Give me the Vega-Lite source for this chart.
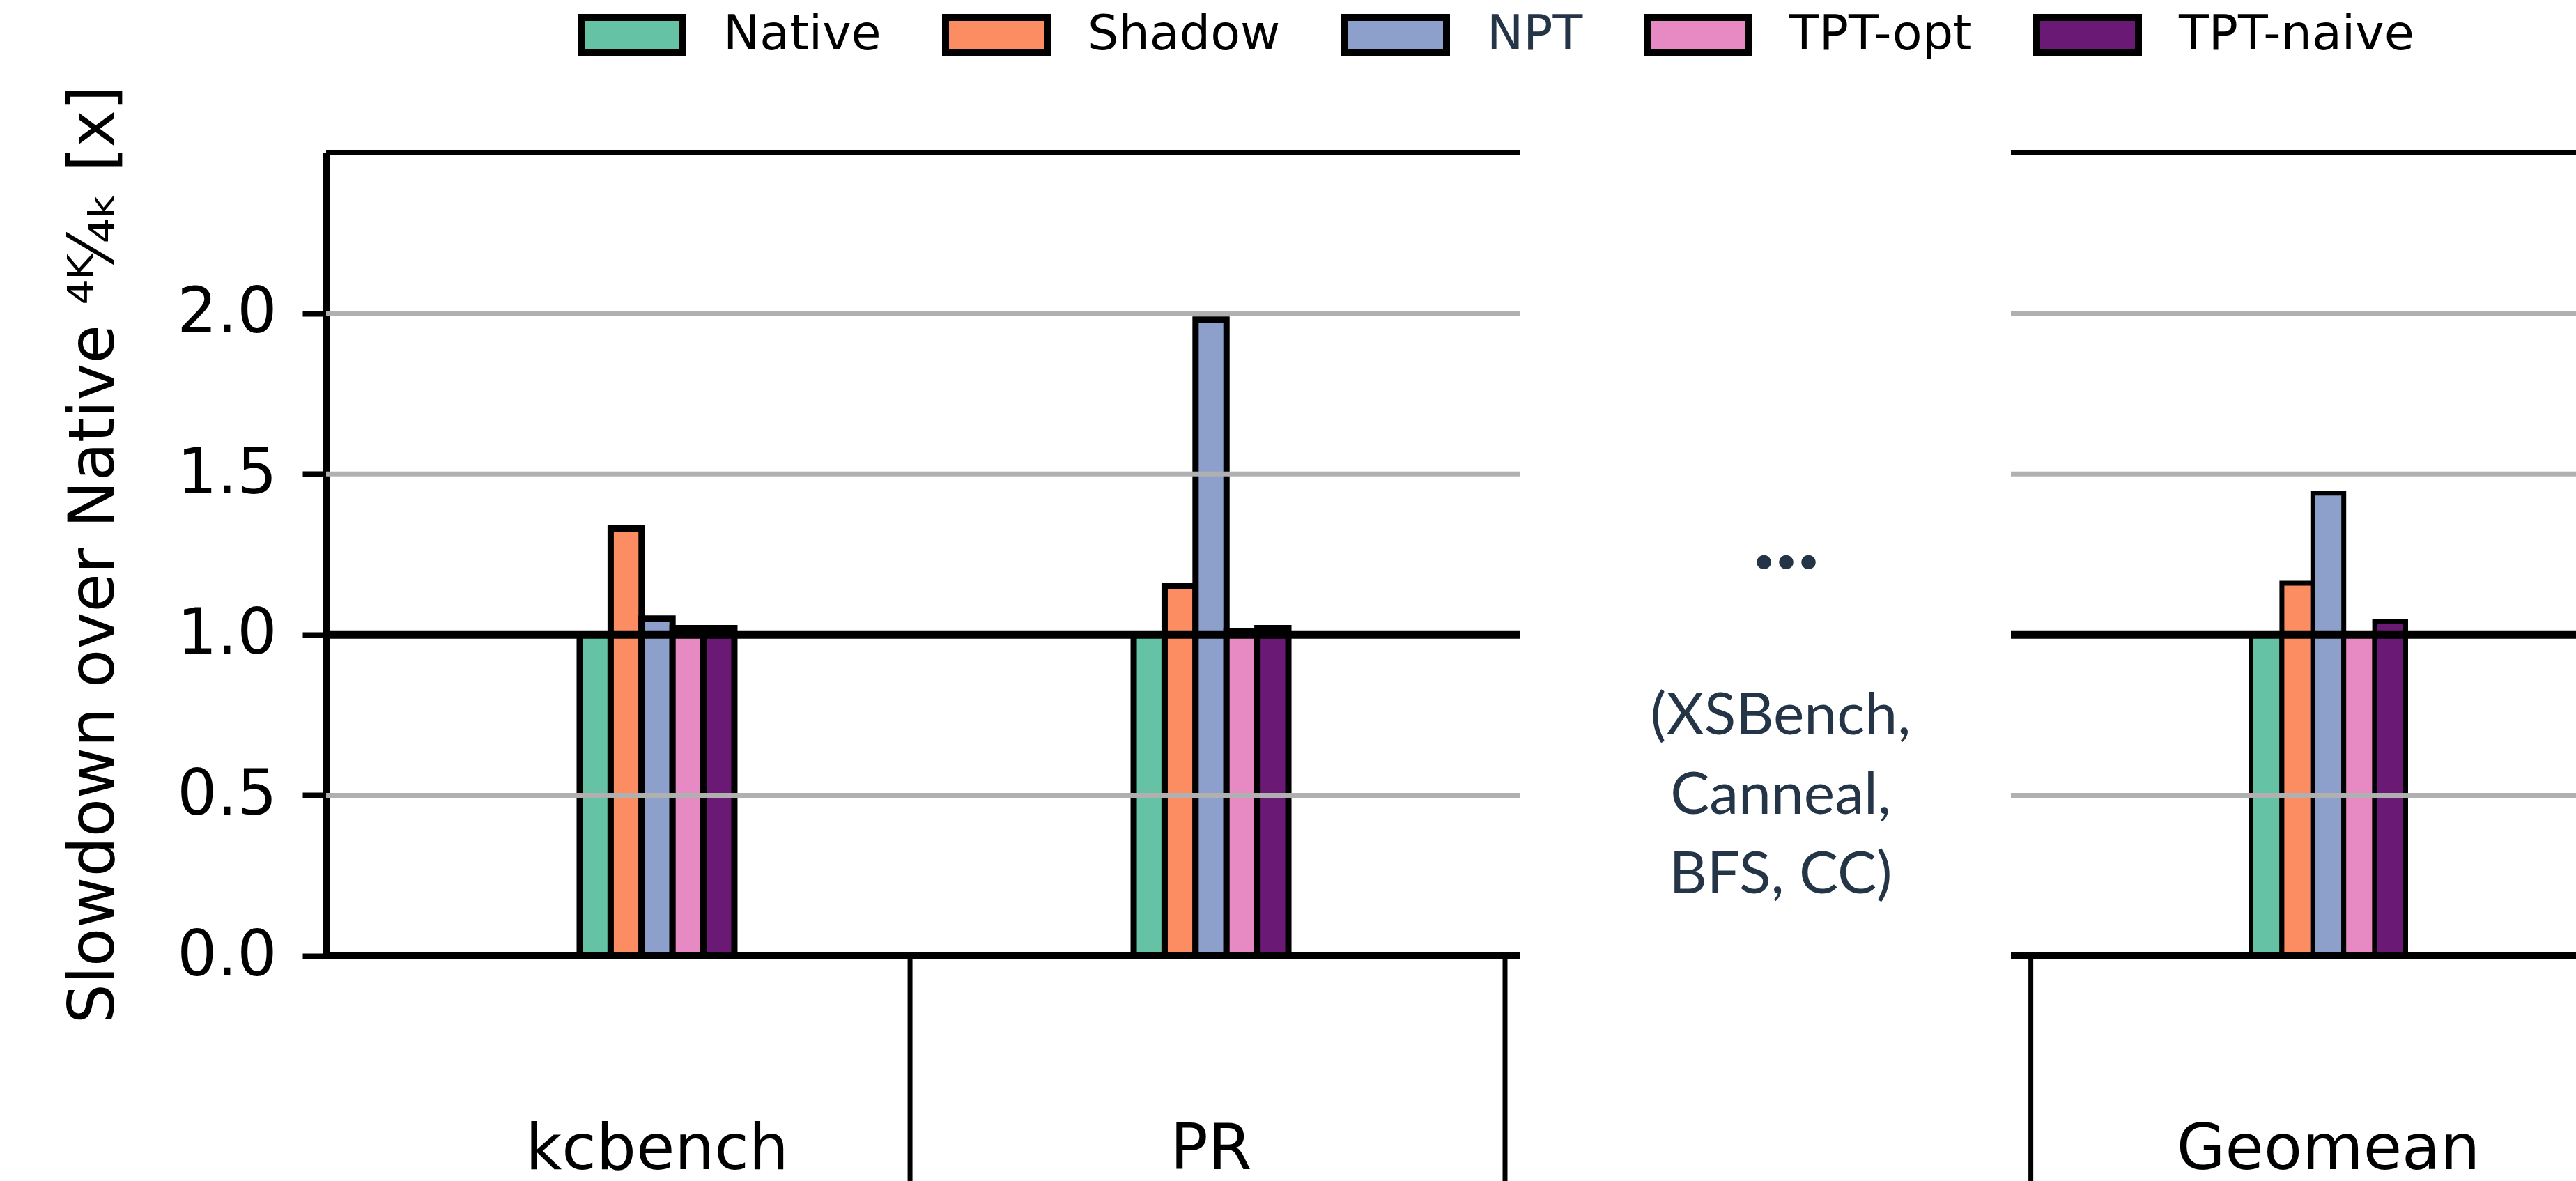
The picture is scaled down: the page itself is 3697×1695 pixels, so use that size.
{
  "$schema": "https://vega.github.io/schema/vega-lite/v6.json",
  "background": "white",
  "padding": {"left": 89, "top": -28, "right": 0, "bottom": 0},
  "spacing": 0,
  "config": {
    "view": {"stroke": null},
    "font": "DejaVu Sans",
    "legend": {
      "orient": "none",
      "legendX": 361,
      "legendY": -247,
      "direction": "horizontal",
      "symbolType": "M-1,-0.342H1V0.342H-1Z",
      "symbolSize": 21316,
      "symbolStrokeColor": "black",
      "symbolStrokeWidth": 10,
      "symbolOpacity": 1,
      "labelFont": "DejaVu Sans",
      "labelFontSize": 70,
      "labelColor": "black",
      "labelOffset": 53,
      "columnPadding": 72,
      "labelLimit": 0
    }
  },
  "datasets": {
    "bars": [
      {"group": "kcbench", "config": "Native", "value": 1.0},
      {"group": "kcbench", "config": "Shadow", "value": 1.33},
      {"group": "kcbench", "config": "NPT", "value": 1.05},
      {"group": "kcbench", "config": "TPT-opt", "value": 1.02},
      {"group": "kcbench", "config": "TPT-naive", "value": 1.02},
      {"group": "PR", "config": "Native", "value": 1.0},
      {"group": "PR", "config": "Shadow", "value": 1.15},
      {"group": "PR", "config": "NPT", "value": 1.98},
      {"group": "PR", "config": "TPT-opt", "value": 1.01},
      {"group": "PR", "config": "TPT-naive", "value": 1.02},
      {"group": "Geomean", "config": "Native", "value": 1.0},
      {"group": "Geomean", "config": "Shadow", "value": 1.16},
      {"group": "Geomean", "config": "NPT", "value": 1.44},
      {"group": "Geomean", "config": "TPT-opt", "value": 1.0},
      {"group": "Geomean", "config": "TPT-naive", "value": 1.04}
    ],
    "notes": [
      {"kind": "dots", "note": "..."},
      {"kind": "list", "note": "(XSBench,\nCanneal,\nBFS, CC)"}
    ]
  },
  "resolve": {"scale": {"x": "independent", "y": "independent", "color": "shared"}},
  "hconcat": [
    {
      "width": 1713,
      "height": 1153,
      "layer": [
        {
          "data": {"name": "bars"},
          "transform": [{"filter": "datum.group != 'Geomean'"}],
          "mark": {"type": "bar", "stroke": "black", "strokeWidth": 9},
          "encoding": {
            "x": {
              "field": "group", "type": "nominal",
              "scale": {"domain": ["kcbench", "PR"], "paddingInner": 0.7208, "paddingOuter": 0.4377, "align": 0.523},
              "axis": {"title": null, "labelAngle": 0, "labelFontSize": 90, "labelColor": "black", "labelLimit": 0, "ticks": false, "tickSize": 0, "domain": false, "labelPadding": 234, "grid": false}
            },
            "xOffset": {"field": "config", "type": "nominal", "sort": ["Native", "Shadow", "NPT", "TPT-opt", "TPT-naive"], "scale": {"paddingInner": 0, "paddingOuter": 0}},
            "y": {
              "field": "value", "type": "quantitative",
              "scale": {"domain": [0, 2.5], "nice": false, "zero": true},
              "axis": {
                "title": "Slowdown over Native ⁴ᴷ⁄₄ₖ [x]",
                "titleFontSize": 90, "titleFontWeight": "normal", "titleColor": "black", "titlePadding": 87,
                "values": [0, 0.5, 1, 1.5, 2, 2.5],
                "labelExpr": "datum.value >= 2.5 ? '' : format(datum.value, '.1f')",
                "labelFontSize": 90, "labelColor": "black", "labelPadding": 37,
                "tickSize": 34, "tickWidth": 8, "tickColor": "black",
                "tickOpacity": {"condition": {"test": "datum.value >= 2.5", "value": 0}, "value": 1},
                "domainColor": "black", "domainWidth": 10,
                "grid": false
              }
            },
            "color": {
              "field": "config", "type": "nominal",
              "scale": {"domain": ["Native", "Shadow", "NPT", "TPT-opt", "TPT-naive"], "range": ["#66c2a5", "#fc8d62", "#8da0cb", "#e78ac3", "#6a1a74"]},
              "legend": {"title": null, "encode": {"labels": {"update": {"fill": {"signal": "datum.label === 'NPT' ? '#253548' : 'black'"}}}}}
            }
          }
        },
        {"data": {"values": [{}]}, "mark": {"type": "rule", "color": "#b0b0b0", "strokeWidth": 7}, "encoding": {"y": {"datum": 0.5, "type": "quantitative"}}},
        {"data": {"values": [{}]}, "mark": {"type": "rule", "color": "#b0b0b0", "strokeWidth": 7}, "encoding": {"y": {"datum": 1.5, "type": "quantitative"}}},
        {"data": {"values": [{}]}, "mark": {"type": "rule", "color": "#b0b0b0", "strokeWidth": 7}, "encoding": {"y": {"datum": 2.0, "type": "quantitative"}}},
        {"data": {"values": [{}]}, "mark": {"type": "rule", "color": "black", "strokeWidth": 8}, "encoding": {"y": {"datum": 2.5, "type": "quantitative"}}},
        {"data": {"values": [{}]}, "mark": {"type": "rule", "color": "black", "strokeWidth": 12}, "encoding": {"y": {"datum": 1.0, "type": "quantitative"}}},
        {"data": {"values": [{}]}, "mark": {"type": "rule", "color": "black", "strokeWidth": 10}, "encoding": {"y": {"datum": 0, "type": "quantitative"}}},
        {
          "data": {"values": [{"group": "PR"}]},
          "mark": {"type": "rule", "color": "black", "strokeWidth": 7},
          "encoding": {"x": {"field": "group", "type": "nominal", "bandPosition": -1.446}, "y": {"datum": 0, "type": "quantitative"}, "y2": {"datum": -0.75}}
        },
        {
          "data": {"values": [{"group": "PR"}]},
          "mark": {"type": "rule", "color": "black", "strokeWidth": 7},
          "encoding": {"x": {"field": "group", "type": "nominal", "bandPosition": 2.401}, "y": {"datum": 0, "type": "quantitative"}, "y2": {"datum": -0.75}}
        }
      ]
    },
    {
      "width": 693,
      "height": 1153,
      "data": {"name": "notes"},
      "layer": [
        {
          "transform": [{"filter": "datum.kind == 'dots'"}],
          "mark": {"type": "text", "font": "Lato", "fontSize": 135, "fontWeight": "bold", "color": "#253548", "baseline": "alphabetic", "align": "center", "dx": 30},
          "encoding": {"text": {"field": "note"}, "y": {"datum": 1.205, "type": "quantitative", "scale": {"domain": [0, 2.5], "nice": false}, "axis": null}}
        },
        {
          "transform": [{"filter": "datum.kind == 'list'"}],
          "mark": {"type": "text", "font": "Lato", "fontSize": 84, "color": "#253548", "baseline": "alphabetic", "align": "center", "dx": 22, "lineBreak": "\n", "lineHeight": 114},
          "encoding": {"text": {"field": "note"}, "y": {"datum": 0.6895, "type": "quantitative", "scale": {"domain": [0, 2.5], "nice": false}, "axis": null}}
        }
      ]
    },
    {
      "width": 911,
      "height": 1153,
      "layer": [
        {
          "data": {"name": "bars"},
          "transform": [{"filter": "datum.group == 'Geomean'"}],
          "mark": {"type": "bar", "stroke": "black", "strokeWidth": 7},
          "encoding": {
            "x": {
              "field": "group", "type": "nominal",
              "scale": {"domain": ["Geomean"], "paddingInner": 0.7208, "paddingOuter": 0.4333, "align": 0.5},
              "axis": {"title": null, "labelAngle": 0, "labelFontSize": 90, "labelColor": "black", "labelLimit": 0, "ticks": false, "tickSize": 0, "domain": false, "labelPadding": 234, "grid": false}
            },
            "xOffset": {"field": "config", "type": "nominal", "sort": ["Native", "Shadow", "NPT", "TPT-opt", "TPT-naive"], "scale": {"paddingInner": 0, "paddingOuter": 0}},
            "y": {
              "field": "value", "type": "quantitative",
              "scale": {"domain": [0, 2.5], "nice": false, "zero": true},
              "axis": null
            },
            "color": {
              "field": "config", "type": "nominal",
              "scale": {"domain": ["Native", "Shadow", "NPT", "TPT-opt", "TPT-naive"], "range": ["#66c2a5", "#fc8d62", "#8da0cb", "#e78ac3", "#6a1a74"]},
              "legend": {"title": null, "encode": {"labels": {"update": {"fill": {"signal": "datum.label === 'NPT' ? '#253548' : 'black'"}}}}}
            }
          }
        },
        {"data": {"values": [{}]}, "mark": {"type": "rule", "color": "#b0b0b0", "strokeWidth": 7}, "encoding": {"y": {"datum": 0.5, "type": "quantitative"}}},
        {"data": {"values": [{}]}, "mark": {"type": "rule", "color": "#b0b0b0", "strokeWidth": 7}, "encoding": {"y": {"datum": 1.5, "type": "quantitative"}}},
        {"data": {"values": [{}]}, "mark": {"type": "rule", "color": "#b0b0b0", "strokeWidth": 7}, "encoding": {"y": {"datum": 2.0, "type": "quantitative"}}},
        {"data": {"values": [{}]}, "mark": {"type": "rule", "color": "black", "strokeWidth": 8}, "encoding": {"y": {"datum": 2.5, "type": "quantitative"}}},
        {"data": {"values": [{}]}, "mark": {"type": "rule", "color": "black", "strokeWidth": 12}, "encoding": {"y": {"datum": 1.0, "type": "quantitative"}}},
        {"data": {"values": [{}]}, "mark": {"type": "rule", "color": "black", "strokeWidth": 10}, "encoding": {"y": {"datum": 0, "type": "quantitative"}}},
        {
          "data": {"values": [{"group": "Geomean"}]},
          "mark": {"type": "rule", "color": "black", "strokeWidth": 7},
          "encoding": {"x": {"field": "group", "type": "nominal", "bandPosition": -1.423}, "y": {"datum": 0, "type": "quantitative"}, "y2": {"datum": -0.75}}
        }
      ]
    }
  ]
}
